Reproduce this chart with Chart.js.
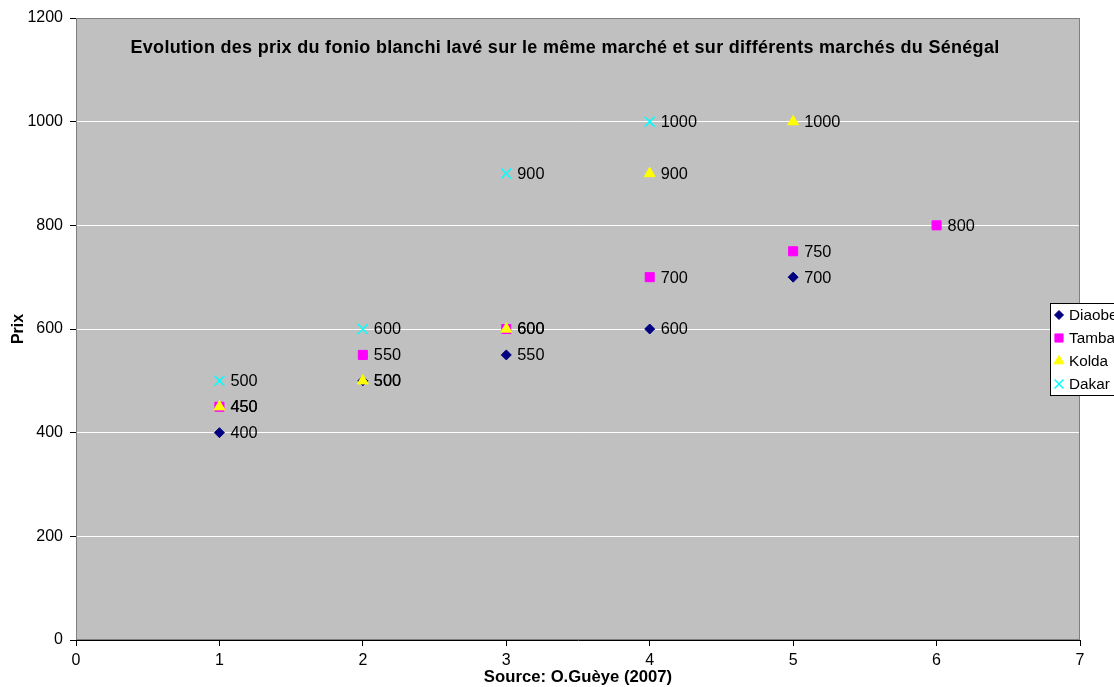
<!DOCTYPE html>
<html>
<head>
<meta charset="utf-8">
<script src="https://cdn.jsdelivr.net/npm/chart.js@4.4.1/dist/chart.umd.min.js"></script>
<style>
  html, body { margin: 0; padding: 0; background: #ffffff; }
  #wrap { position: relative; width: 1114px; height: 687px; overflow: hidden; }
</style>
</head>
<body>
<div id="wrap"><canvas id="c" width="1114" height="687"></canvas></div>
<script>
// Fonio price observations (FCFA) per market, by survey point
const titleText = 'Evolution des prix du fonio blanchi lavé sur le même marché et sur différents marchés du Sénégal';
const sourceText = 'Source: O.Guèye (2007)';
const yAxisText = 'Prix';

const marketNames = ['Diaobe', 'Tambacounda', 'Kolda', 'Dakar'];
const diaobeX = [1, 2, 3, 4, 5];
const diaobeY = [400, 500, 550, 600, 700];
const tambaX = [1, 2, 3, 4, 5, 6];
const tambaY = [450, 550, 600, 700, 750, 800];
const koldaX = [1, 2, 3, 4, 5];
const koldaY = [450, 500, 600, 900, 1000];
const dakarX = [1, 2, 3, 4];
const dakarY = [500, 600, 900, 1000];

const xTicks = [0, 1, 2, 3, 4, 5, 6, 7];
const yTicks = [0, 200, 400, 600, 800, 1000, 1200];

const FONT = '"Liberation Sans", Arial, sans-serif';

function pts(xs, ys) { return xs.map((x, i) => ({ x: x, y: ys[i] })); }

// later series are painted over earlier ones
const datasets = [
  { label: marketNames[0], data: pts(diaobeX, diaobeY), pointStyle: 'rectRot', pointRadius: 5,
    backgroundColor: '#000080', borderColor: '#000080', borderWidth: 1, order: 4 },
  { label: marketNames[1], data: pts(tambaX, tambaY), pointStyle: 'rect', pointRadius: 6.4,
    backgroundColor: '#FF00FF', borderColor: '#FF00FF', borderWidth: 1, order: 3 },
  { label: marketNames[2], data: pts(koldaX, koldaY), pointStyle: 'triangle', pointRadius: 6.3,
    backgroundColor: '#FFFF00', borderColor: '#FFFF00', borderWidth: 1, order: 2 },
  { label: marketNames[3], data: pts(dakarX, dakarY), pointStyle: 'crossRot', pointRadius: 7,
    backgroundColor: '#00FFFF', borderColor: '#00FFFF', borderWidth: 1.5, order: 1 }
];
datasets.forEach(d => { d.pointHoverRadius = d.pointRadius; d.showLine = false; });

// Grey plot background, frame and in-plot title
const plotFrame = {
  id: 'plotFrame',
  beforeDraw(chart) {
    const { ctx, chartArea: a } = chart;
    ctx.save();
    ctx.fillStyle = '#C0C0C0';
    ctx.fillRect(a.left, a.top, a.right - a.left, a.bottom - a.top);
    ctx.restore();
  },
  afterDatasetsDraw(chart) {
    const { ctx, chartArea: a } = chart;
    ctx.save();
    ctx.strokeStyle = '#808080';
    ctx.lineWidth = 1;
    ctx.strokeRect(a.left + 0.5, a.top + 0.5, a.right - a.left - 1, a.bottom - a.top - 1);
    ctx.fillStyle = '#000';
    ctx.font = 'bold 18px ' + FONT;
    ctx.letterSpacing = '0.3px';
    ctx.textAlign = 'center';
    ctx.textBaseline = 'middle';
    ctx.fillText(titleText, 565, 48);
    ctx.restore();
  }
};

// Value labels to the right of each marker
const valueLabels = {
  id: 'valueLabels',
  afterDraw(chart) {
    const { ctx } = chart;
    ctx.save();
    ctx.fillStyle = '#000';
    ctx.font = '16.3px ' + FONT;
    ctx.textAlign = 'left';
    ctx.textBaseline = 'middle';
    chart.data.datasets.forEach((ds, i) => {
      const meta = chart.getDatasetMeta(i);
      meta.data.forEach((el, j) => {
        ctx.fillText(String(ds.data[j].y), el.x + 11, el.y + 1);
      });
    });
    ctx.restore();
  }
};

// Boxed legend at the right edge
const sideLegend = {
  id: 'sideLegend',
  afterDraw(chart) {
    const { ctx } = chart;
    const x0 = 1050, y0 = 303, rowH = 23;
    ctx.save();
    ctx.fillStyle = '#fff';
    ctx.strokeStyle = '#000';
    ctx.lineWidth = 1;
    ctx.fillRect(x0, y0, 130, 93);
    ctx.strokeRect(x0 + 0.5, y0 + 0.5, 130, 92);
    ctx.font = '15.3px ' + FONT;
    ctx.textBaseline = 'middle';
    chart.data.datasets.forEach((ds, i) => {
      const cy = y0 + 12 + i * rowH;
      ctx.fillStyle = ds.backgroundColor;
      ctx.strokeStyle = ds.borderColor;
      ctx.lineWidth = ds.borderWidth;
      Chart.helpers.drawPoint(ctx, { pointStyle: ds.pointStyle, radius: ds.pointRadius * 0.9, rotation: 0, borderWidth: ds.borderWidth }, x0 + 9, cy);
      ctx.fillStyle = '#000';
      ctx.fillText(ds.label, x0 + 19, cy + 1);
    });
    ctx.restore();
  }
};

new Chart(document.getElementById('c'), {
  type: 'scatter',
  data: { datasets: datasets },
  plugins: [plotFrame, valueLabels, sideLegend],
  options: {
    responsive: false,
    animation: false,
    events: [],
    layout: { padding: { top: 18, right: 34, left: 0, bottom: 0 } },
    plugins: { legend: { display: false }, tooltip: { enabled: false }, title: { display: false } },
    scales: {
      x: {
        type: 'linear', min: 0, max: 7,
        afterBuildTicks(s) { s.ticks = xTicks.map(v => ({ value: v })); },
        afterFit(s) { s.height = 47; },
        grid: { drawOnChartArea: false, tickLength: 6, tickColor: '#000' },
        border: { color: '#000', width: 1 },
        ticks: { color: '#000', font: { family: FONT, size: 16 }, padding: 5, maxRotation: 0,
          callback: v => String(v) },
        title: { display: true, text: sourceText, color: '#000', font: { family: FONT, size: 16.7, weight: 'bold' }, padding: { top: 0, bottom: 0 } }
      },
      y: {
        type: 'linear', min: 0, max: 1200,
        afterBuildTicks(s) { s.ticks = yTicks.map(v => ({ value: v })); },
        afterFit(s) { s.width = 76; },
        grid: {
          color: c => (c.tick && c.tick.value > 0 && c.tick.value < 1200) ? '#FFFFFF' : 'rgba(0,0,0,0)',
          tickLength: 6, tickColor: '#000', lineWidth: 1
        },
        border: { color: '#000', width: 1 },
        ticks: { color: '#000', font: { family: FONT, size: 16 }, padding: 7,
          callback: v => String(v) },
        title: { display: true, text: yAxisText, color: '#000', font: { family: FONT, size: 16, weight: 'bold' }, padding: { top: 9, bottom: 0 } }
      }
    }
  }
});
</script>
</body>
</html>
